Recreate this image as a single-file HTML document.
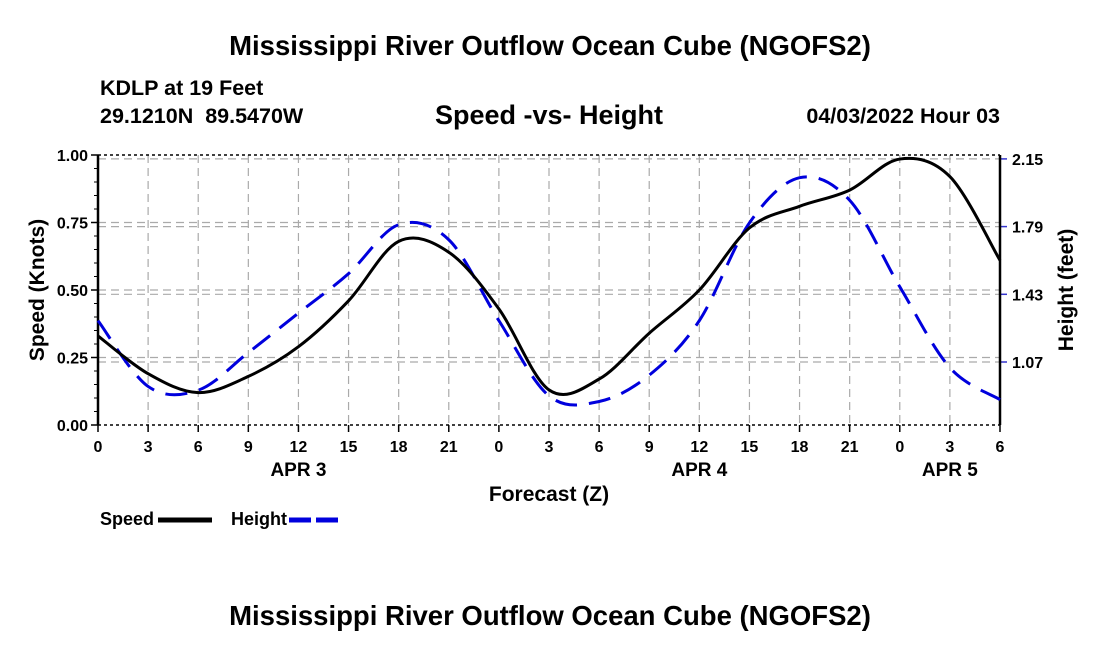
<!DOCTYPE html>
<html><head><meta charset="utf-8"><style>body{margin:0;background:#fff}svg{display:block;font-family:"Liberation Sans",sans-serif;font-weight:bold}</style></head>
<body>
<svg id="c" width="1100" height="650">
<text x="550" y="55" text-anchor="middle" font-size="27.5">Mississippi River Outflow Ocean Cube (NGOFS2)</text>
<text x="100" y="95" font-size="21.5">KDLP at 19 Feet</text>
<text x="100" y="123" font-size="21.5" xml:space="preserve" style="white-space:pre">29.1210N  89.5470W</text>
<text x="549" y="124" text-anchor="middle" font-size="27">Speed -vs- Height</text>
<text x="1000" y="123" text-anchor="end" font-size="21.5">04/03/2022 Hour 03</text>
<text x="550" y="625" text-anchor="middle" font-size="27.5">Mississippi River Outflow Ocean Cube (NGOFS2)</text>
<g id="g"></g>
</svg>
<script>
const hours=[0,3,6,9,12,15,18,21,24,27,30,33,36,39,42,45,48,51,54];
const speed=[0.33,0.19,0.12,0.18,0.29,0.46,0.68,0.64,0.43,0.13,0.17,0.34,0.50,0.73,0.81,0.87,0.985,0.92,0.61];
const height=[1.29,0.94,0.92,1.12,1.33,1.54,1.80,1.72,1.29,0.89,0.86,1.00,1.29,1.81,2.05,1.93,1.47,1.04,0.87];
const xTickLabels=["0","3","6","9","12","15","18","21","0","3","6","9","12","15","18","21","0","3","6"];
const leftTicks=[0,0.25,0.5,0.75,1.0];
const rightTicks=[1.07,1.43,1.79,2.15];
const dayLabels=[["APR 3",12],["APR 4",36],["APR 5",51]];
const L=98,R=1000,T=155,B=425;
const X=h=>L+(h/54)*(R-L);
const YS=v=>B-v*(B-T);
const YH=v=>362-(v-1.07)*(67.7/0.36);
const NS="http://www.w3.org/2000/svg",g=document.getElementById('g');
function mk(t,a,txt){const e=document.createElementNS(NS,t);for(const k in a)e.setAttribute(k,a[k]);if(txt!=null)e.textContent=txt;g.appendChild(e);return e;}
hours.forEach((h,i)=>{
 if(i>0&&i<hours.length-1){const l=mk('line',{x1:X(h),x2:X(h),y1:T,y2:B,stroke:'#aaa','stroke-dasharray':'8,5','stroke-width':1.2});
 
 }
 mk('line',{x1:X(h),x2:X(h),y1:B,y2:B+7,stroke:'#000','stroke-width':1.5});
 const t=mk('text',{x:X(h),y:B+27,'text-anchor':'middle','font-size':16},xTickLabels[i]);
 
 
});
leftTicks.forEach(v=>{
 if(v>0&&v<1){const l=mk('line',{x1:L,x2:R,y1:YS(v),y2:YS(v),stroke:'#aaa','stroke-dasharray':'8,5','stroke-width':1.2});
 
 }
 mk('line',{x1:L-7,x2:L,y1:YS(v),y2:YS(v),stroke:'#000','stroke-width':1.5});
 const t=mk('text',{x:L-10,y:YS(v)+6,'text-anchor':'end','font-size':16},v.toFixed(2));
 
 
});
for(let v=0.05;v<1;v+=0.05)mk('line',{x1:L-4,x2:L,y1:YS(v),y2:YS(v),stroke:'#000','stroke-width':1});
rightTicks.forEach(v=>{
 const l=mk('line',{x1:L,x2:R,y1:YH(v),y2:YH(v),stroke:'#aaa','stroke-dasharray':'8,5','stroke-width':1.2});
 
 
 mk('line',{x1:R,x2:R+7,y1:YH(v),y2:YH(v),stroke:'#33c','stroke-width':1.5});
 const t=mk('text',{x:R+12,y:YH(v)+6,'font-size':16},v.toFixed(2));
 
 
});
mk('line',{x1:L,x2:R,y1:T,y2:T,stroke:'#000','stroke-width':1.5,'stroke-dasharray':'3,3'});
mk('line',{x1:L,x2:R,y1:B,y2:B,stroke:'#000','stroke-width':1.5,'stroke-dasharray':'3,3'});
mk('line',{x1:L,x2:L,y1:T,y2:B,stroke:'#000','stroke-width':2.5});
mk('line',{x1:R,x2:R,y1:T,y2:B,stroke:'#000','stroke-width':2.5});
dayLabels.forEach(d=>{const t=mk('text',{x:X(d[1]),y:B+51,'text-anchor':'middle','font-size':19},d[0]);
 
 });
let t=mk('text',{x:549,y:501,'text-anchor':'middle','font-size':21},'Forecast (Z)');


t=mk('text',{x:0,y:0,'text-anchor':'middle','font-size':21,transform:'translate(44,290) rotate(-90)'},'Speed (Knots)');


t=mk('text',{x:0,y:0,'text-anchor':'middle','font-size':21,transform:'translate(1073,290) rotate(-90)'},'Height (feet)');


function path(vals,yf){const p=hours.map((h,i)=>[X(h),yf(vals[i])]);let d='M'+p[0][0]+','+p[0][1];
 for(let i=0;i<p.length-1;i++){const p0=p[i-1]||p[i],p1=p[i],p2=p[i+1],p3=p[i+2]||p2;
 d+=` C${p1[0]+(p2[0]-p0[0])/6},${p1[1]+(p2[1]-p0[1])/6} ${p2[0]-(p3[0]-p1[0])/6},${p2[1]-(p3[1]-p1[1])/6} ${p2[0]},${p2[1]}`;}return d;}
const hl=mk('path',{d:path(height,YH),fill:'none',stroke:'#0000dd','stroke-width':3,'stroke-dasharray':'22,12'});


const sl=mk('path',{d:path(speed,YS),fill:'none',stroke:'#000','stroke-width':3});


t=mk('text',{x:100,y:525,'font-size':18},'Speed');


mk('line',{x1:158,x2:212,y1:520,y2:520,stroke:'#000','stroke-width':5});
t=mk('text',{x:231,y:525,'font-size':18},'Height');


mk('line',{x1:289,x2:343,y1:520,y2:520,stroke:'#0000dd','stroke-width':5,'stroke-dasharray':'22,5'});
</script>
</body></html>
